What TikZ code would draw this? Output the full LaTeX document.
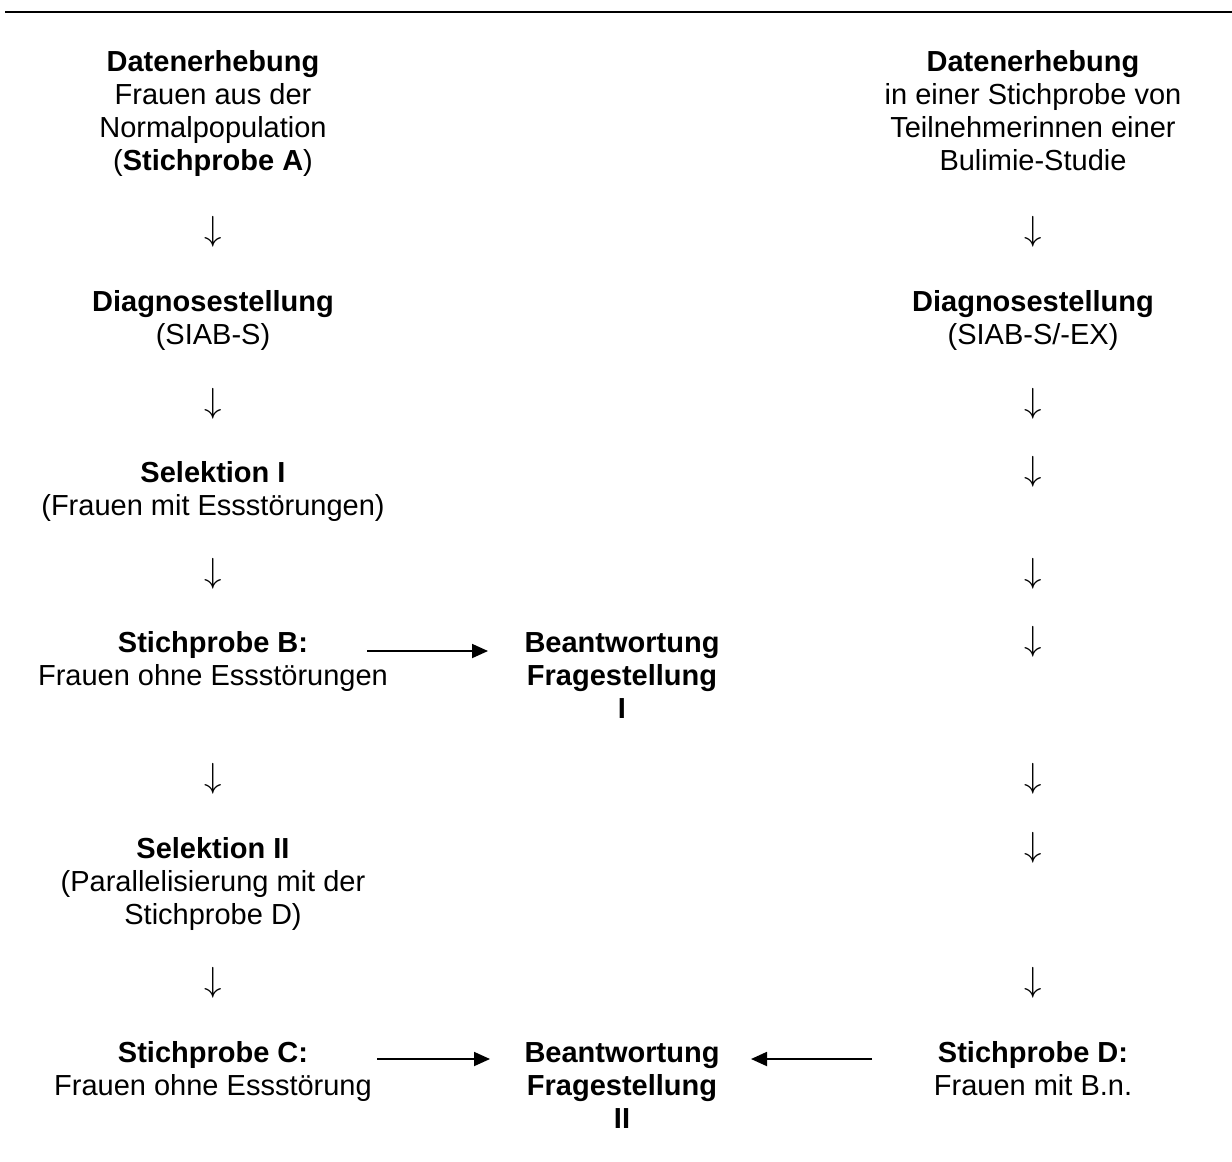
\documentclass[tikz,border=0pt]{standalone}
\usepackage{fontspec}
\usepackage{graphicx}
\setmainfont{Liberation Sans}
\usetikzlibrary{arrows.meta}

% downward arrow glyph used between the steps
\newcommand{\stepdown}{\scalebox{1.4}{$\downarrow$}}

\begin{document}
\begin{tikzpicture}[x=1pt,y=-1pt,
  txt/.style={font=\fontsize{29}{33}\selectfont, align=center, inner sep=0pt, anchor=north},
  down/.style={font=\fontsize{24}{28}\selectfont, inner sep=0pt, anchor=center},
  arr/.style={line width=1.8pt, -{Triangle[length=16pt,width=14pt]}}
]
\useasboundingbox (0,0) rectangle (1232,1162);

% rule across the top
\draw[line width=2.5pt] (5,12) -- (1232,12);

% column centres
\def\xl{213}
\def\xm{622}
\def\xr{1033}

% left column (first baseline minus strut height 23.1)
\node[txt] (dA) at (\xl,47.9) {\strut\textbf{Datenerhebung}\\Frauen aus der\\Normalpopulation\\(\textbf{Stichprobe A})};
\node[down] (la1) at (\xl,232) {\stepdown};
\node[txt] (dgL) at (\xl,287.9) {\strut\textbf{Diagnosestellung}\\(SIAB-S)};
\node[down] (la2) at (\xl,404) {\stepdown};
\node[txt] (selI) at (\xl,458.9) {\strut\textbf{Selektion I}\\(Frauen mit Essstörungen)};
\node[down] (la3) at (\xl,574) {\stepdown};
\node[txt] (sB) at (\xl,628.9) {\strut\textbf{Stichprobe B:}\\Frauen ohne Essstörungen};
\node[down] (la4) at (\xl,779) {\stepdown};
\node[txt] (selII) at (\xl,834.9) {\strut\textbf{Selektion II}\\(Parallelisierung mit der\\Stichprobe D)};
\node[down] (la5) at (\xl,983) {\stepdown};
\node[txt] (sC) at (\xl,1038.9) {\strut\textbf{Stichprobe C:}\\Frauen ohne Essstörung};

% middle column
\node[txt] (fI) at (\xm,628.9) {\strut\textbf{Beantwortung}\\\textbf{Fragestellung}\\\textbf{I}};
\node[txt] (fII) at (\xm,1038.9) {\strut\textbf{Beantwortung}\\\textbf{Fragestellung}\\\textbf{II}};

% right column
\node[txt] (dR) at (\xr,47.9) {\strut\textbf{Datenerhebung}\\in einer Stichprobe von\\Teilnehmerinnen einer\\Bulimie-Studie};
\node[down] (ra1) at (\xr,232) {\stepdown};
\node[txt] (dgR) at (\xr,287.9) {\strut\textbf{Diagnosestellung}\\(SIAB-S/-EX)};
\node[down] (ra2) at (\xr,404) {\stepdown};
\node[down] (ra3) at (\xr,472) {\stepdown};
\node[down] (ra4) at (\xr,574) {\stepdown};
\node[down] (ra5) at (\xr,642) {\stepdown};
\node[down] (ra6) at (\xr,779) {\stepdown};
\node[down] (ra7) at (\xr,848) {\stepdown};
\node[down] (ra8) at (\xr,983) {\stepdown};
\node[txt] (sD) at (\xr,1038.9) {\strut\textbf{Stichprobe D:}\\Frauen mit B.n.};

% horizontal connectors
\coordinate (b1) at (367,651);
\coordinate (b2) at (488,651);
\coordinate (c1) at (377,1059);
\coordinate (c2) at (490,1059);
\coordinate (d1) at (872,1059);
\coordinate (d2) at (751,1059);
\draw[arr] (b1) -- (b2);
\draw[arr] (c1) -- (c2);
\draw[arr] (d1) -- (d2);
\end{tikzpicture}
\end{document}
